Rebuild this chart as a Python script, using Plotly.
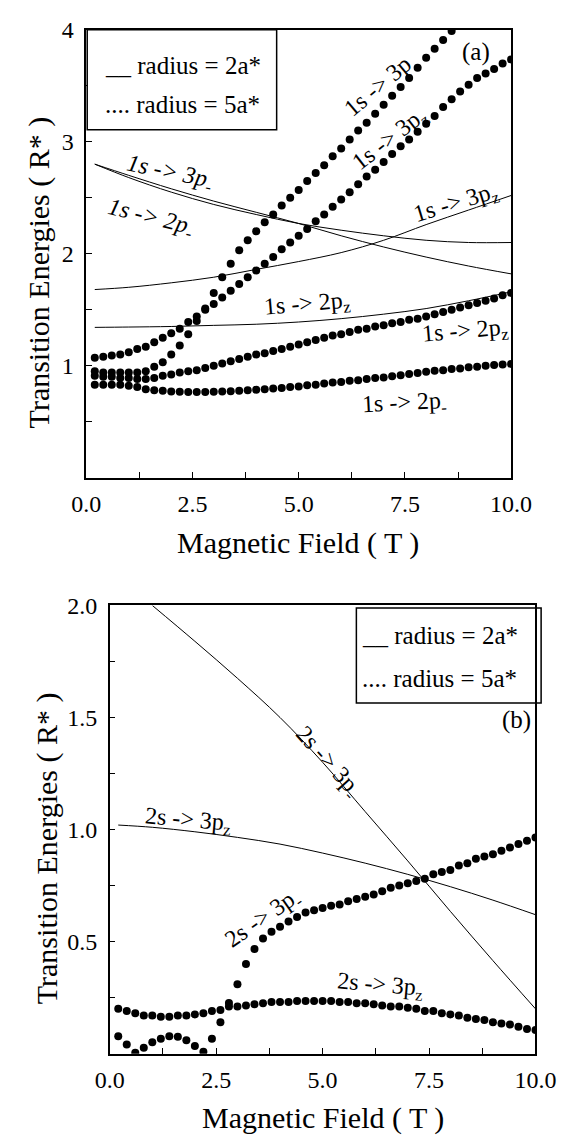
import plotly.graph_objects as go

W, H = 579, 1135
FONT = "Liberation Serif"

# ---------------- data: panel (a) ----------------
B_dots = [0.2, 0.4, 0.6, 0.8, 1.0, 1.2, 1.4, 1.6, 1.8, 2.0,
          2.2, 2.4, 2.6, 2.8, 3.0, 3.2, 3.4, 3.6, 3.8, 4.0,
          4.2, 4.4, 4.6, 4.8, 5.0, 5.2, 5.4, 5.6, 5.8, 6.0,
          6.2, 6.4, 6.6, 6.8, 7.0, 7.2, 7.4, 7.6, 7.8, 8.0,
          8.2, 8.4, 8.6, 8.8, 9.0, 9.2, 9.4, 9.6, 9.8, 10.0]

# radius = 5a* (dotted)
a5_1s3p = [0.95, 0.94, 0.94, 0.94, 0.94, 0.94, 0.95, 0.99, 1.03, 1.10,
           1.18, 1.28, 1.40, 1.51, 1.65, 1.79, 1.91, 2.03, 2.12, 2.20,
           2.28, 2.35, 2.43, 2.50, 2.57, 2.65, 2.72, 2.79, 2.87, 2.94,
           3.02, 3.10, 3.17, 3.25, 3.33, 3.41, 3.49, 3.57, 3.66, 3.75,
           3.83, 3.91, 3.99, None, None, None, None, None, None, None]
a5_1s3pz = [1.07, 1.08, 1.09, 1.10, 1.12, 1.15, 1.17, 1.21, 1.25, 1.29,
            1.33, 1.39, 1.44, 1.50, 1.55, 1.61, 1.67, 1.73, 1.79, 1.85,
            1.91, 1.97, 2.04, 2.10, 2.16, 2.22, 2.29, 2.35, 2.42, 2.485,
            2.55, 2.62, 2.69, 2.75, 2.82, 2.89, 2.96, 3.02, 3.09, 3.16,
            3.23, 3.31, 3.38, 3.45, 3.51, 3.57, 3.61, 3.65, 3.70, 3.735]
a5_1s2pz = [0.91, 0.90, 0.90, 0.89, 0.89, 0.88, 0.88, 0.89, 0.91, 0.92,
            0.94, 0.95, 0.96, 0.98, 1.00, 1.02, 1.04, 1.06, 1.08, 1.10,
            1.11, 1.13, 1.15, 1.17, 1.19, 1.21, 1.23, 1.25, 1.27, 1.28,
            1.30, 1.32, 1.33, 1.35, 1.36, 1.38, 1.39, 1.41, 1.42, 1.44,
            1.46, 1.48, 1.50, 1.52, 1.54, 1.56, 1.58, 1.60, 1.63, 1.65]
a5_1s2pm = [0.83, 0.83, 0.83, 0.83, 0.82, 0.81, 0.79, 0.78, 0.775, 0.77,
            0.768, 0.765, 0.765, 0.765, 0.767, 0.77, 0.772, 0.775, 0.78, 0.785,
            0.79, 0.795, 0.80, 0.81, 0.815, 0.825, 0.83, 0.84, 0.85, 0.855,
            0.865, 0.87, 0.88, 0.89, 0.895, 0.905, 0.915, 0.925, 0.935, 0.945,
            0.955, 0.96, 0.97, 0.975, 0.985, 0.99, 1.00, 1.005, 1.01, 1.015]

# radius = 2a* (solid)
B_line_a = [0.2, 1.0, 2.0, 3.0, 4.0, 5.0, 6.0, 7.0, 8.0, 9.0, 10.0]
a2_1s3pm = [2.80, 2.70, 2.58, 2.47, 2.37, 2.27, 2.16, 2.06, 1.97, 1.89, 1.82]
a2_1s2pm = [2.80, 2.68, 2.55, 2.44, 2.35, 2.27, 2.21, 2.16, 2.12, 2.10, 2.10]
a2_1s3pz = [1.68, 1.70, 1.74, 1.79, 1.86, 1.93, 2.01, 2.12, 2.26, 2.39, 2.52]
a2_1s2pz = [1.342, 1.345, 1.35, 1.36, 1.37, 1.39, 1.42, 1.46, 1.51, 1.58, 1.66]

# ---------------- data: panel (b) ----------------
b5_2s3pm = [0.078, 0.041, 0.004, 0.026, 0.051, 0.067, 0.078, 0.075, 0.06, 0.034,
            0.009, 0.066, 0.14, 0.226, 0.31, 0.40, 0.467, 0.514, 0.544, 0.566,
            0.59, 0.61, 0.63, 0.64, 0.65, 0.66, 0.665, 0.68, 0.69, 0.70,
            0.71, 0.725, 0.74, 0.75, 0.76, 0.77, 0.78, 0.80, 0.81, 0.82,
            0.84, 0.85, 0.87, 0.88, 0.89, 0.905, 0.92, 0.935, 0.95, 0.965]
b5_2s3pz = [0.20, 0.19, 0.18, 0.17, 0.17, 0.165, 0.165, 0.17, 0.17, 0.175,
            0.18, 0.19, 0.195, 0.21, 0.21, 0.215, 0.22, 0.225, 0.23, 0.23,
            0.23, 0.235, 0.235, 0.235, 0.235, 0.235, 0.23, 0.23, 0.225, 0.225,
            0.22, 0.215, 0.21, 0.21, 0.205, 0.20, 0.19, 0.19, 0.18, 0.175,
            0.17, 0.16, 0.155, 0.15, 0.14, 0.135, 0.13, 0.12, 0.11, 0.105]

B_line_b_m = [1.0, 2.0, 3.0, 4.0, 5.0, 6.0, 7.0, 8.0, 9.0, 10.0]
b2_2s3pm = [2.00, 1.84, 1.675, 1.50, 1.30, 1.08, 0.86, 0.635, 0.415, 0.20]
B_line_b_z = [0.2, 1.0, 2.0, 3.0, 4.0, 5.0, 6.0, 7.0, 8.0, 9.0, 10.0]
b2_2s3pz = [1.02, 1.01, 0.99, 0.965, 0.935, 0.895, 0.85, 0.80, 0.745, 0.685, 0.62]

x_ticks = [0, 2.5, 5, 7.5, 10]
x_ticktext = ["0.0", "2.5", "5.0", "7.5", "10.0"]
ya_ticks = [1, 2, 3, 4]
ya_ticktext = ["1", "2", "3", "4"]
yb_ticks = [0.5, 1.0, 1.5, 2.0]
yb_ticktext = ["0.5", "1.0", "1.5", "2.0"]

# ---------------- figure ----------------
def px_x(p):
    return p / W

def px_y(p):
    return 1 - p / H

fig = go.Figure()

def solid(x, y, xa, ya):
    fig.add_trace(go.Scatter(x=x, y=y, mode="lines", line=dict(color="black", width=1, shape="spline"),
                             xaxis=xa, yaxis=ya, showlegend=False, hoverinfo="skip"))

def dots(x, y, xa, ya):
    fig.add_trace(go.Scatter(x=x, y=y, mode="markers", marker=dict(color="black", size=8, line=dict(width=0)),
                             xaxis=xa, yaxis=ya, showlegend=False, hoverinfo="skip"))

solid(B_line_a, a2_1s3pm, "x", "y")
solid(B_line_a, a2_1s2pm, "x", "y")
solid(B_line_a, a2_1s3pz, "x", "y")
solid(B_line_a, a2_1s2pz, "x", "y")
dots(B_dots, a5_1s3p, "x", "y")
dots(B_dots, a5_1s3pz, "x", "y")
dots(B_dots, a5_1s2pz, "x", "y")
dots(B_dots, a5_1s2pm, "x", "y")

solid(B_line_b_m, b2_2s3pm, "x2", "y2")
solid(B_line_b_z, b2_2s3pz, "x2", "y2")
dots(B_dots, b5_2s3pm, "x2", "y2")
dots(B_dots, b5_2s3pz, "x2", "y2")

tickfont = dict(family=FONT, size=24, color="black")
common_x = dict(range=[0, 10], tickvals=x_ticks, ticktext=x_ticktext, ticks="inside", ticklen=6,
                tickwidth=1.2, tickcolor="black", showline=True, linecolor="black", linewidth=1.5,
                mirror=True, showgrid=False, zeroline=False, tickfont=tickfont, ticklabelstandoff=4,
                minor=dict(dtick=1.25, tick0=0, ticks="inside", ticklen=6, tickwidth=1.2,
                           tickcolor="black", showgrid=False))
common_y = dict(ticks="inside", ticklen=6, tickwidth=1.2, tickcolor="black", showline=True,
                linecolor="black", linewidth=1.5, mirror=True, showgrid=False, zeroline=False,
                tickfont=tickfont, ticklabelstandoff=6)

fig.update_layout(
    width=W, height=H, margin=dict(l=0, r=0, t=0, b=0),
    paper_bgcolor="white", plot_bgcolor="white",
    font=dict(family=FONT, color="black"),
    xaxis=dict(domain=[px_x(76), px_x(529)], anchor="y", **common_x),
    yaxis=dict(domain=[px_y(470), px_y(17)], anchor="x", range=[0, 4], tickvals=ya_ticks,
               ticktext=ya_ticktext,
               minor=dict(dtick=0.5, tick0=0, ticks="inside", ticklen=6, tickwidth=1.2,
                          tickcolor="black", showgrid=False), **common_y),
    xaxis2=dict(domain=[px_x(101), px_x(555)], anchor="y2", **common_x),
    yaxis2=dict(domain=[px_y(1052.7), px_y(599.3)], anchor="x2", range=[0, 2], tickvals=yb_ticks,
                ticktext=yb_ticktext,
                minor=dict(dtick=0.25, tick0=0, ticks="inside", ticklen=6, tickwidth=1.2,
                           tickcolor="black", showgrid=False), **common_y),
)

ann = []

def label(text, x, y, xr, yr, angle=0, size=24, italic=False):
    f = dict(family=FONT, size=size, color="black")
    if italic:
        f["style"] = "italic"
    ann.append(dict(text=text, x=x, y=y, xref=xr, yref=yr, showarrow=False, textangle=angle,
                    font=f, xanchor="center", yanchor="middle"))

def paper_text(text, xp, yp, size, angle=0):
    ann.append(dict(text=text, x=px_x(xp), y=px_y(yp), xref="paper", yref="paper", showarrow=False,
                    textangle=angle, font=dict(family=FONT, size=size, color="black"),
                    xanchor="center", yanchor="middle"))

# panel (a) curve labels
label("1s -> 3p<sub>-</sub>", 1.95, 2.72, "x", "y", angle=12, italic=True)
label("1s -> 2p<sub>-</sub>", 1.50, 2.32, "x", "y", angle=14, italic=True)
label("1s -> 3p", 6.86, 3.50, "x", "y", angle=-40)
label("1s -> 3p<sub>z</sub>", 7.15, 3.02, "x", "y", angle=-38)
label("1s -> 3p<sub>z</sub>", 8.70, 2.44, "x", "y", angle=-17)
label("1s -> 2p<sub>z</sub>", 5.19, 1.54, "x", "y", angle=-5)
label("1s -> 2p<sub>z</sub>", 8.92, 1.30, "x", "y", angle=-5)
label("1s -> 2p<sub>-</sub>", 7.48, 0.66, "x", "y", angle=-3)
label("(a)", 9.18, 3.80, "x", "y", size=25)

# panel (b) curve labels
label("2s -> 3p<sub>-</sub>", 5.11, 1.30, "x2", "y2", angle=48)
label("2s -> 3p<sub>z</sub>", 1.85, 1.04, "x2", "y2", angle=5)
label("2s -> 3p<sub>-</sub>", 3.61, 0.60, "x2", "y2", angle=-35)
label("2s -> 3p<sub>z</sub>", 6.34, 0.30, "x2", "y2", angle=5)
label("(b)", 9.56, 1.49, "x2", "y2", size=25)

# legend boxes (text only, as in the original)
legend_solid = "__ radius = 2a*"
legend_dots = ".... radius = 5a*"
paper_text(legend_solid, 179, 53, 25)
paper_text(legend_dots, 179, 93, 25)
paper_text(legend_solid, 453, 630, 25)
paper_text(legend_dots, 453, 673, 25)

# axis titles
xtitle = "Magnetic Field ( T )"
ytitle = "Transition Energies ( R* )"
paper_text(xtitle, 302, 536, 30)
paper_text(ytitle, 26, 262, 30, angle=-90)
paper_text(xtitle, 328, 1118, 30)
paper_text(ytitle, 34, 845, 30, angle=-90)

fig.update_layout(annotations=ann)

fig.add_shape(type="rect", xref="paper", yref="paper", x0=px_x(77), x1=px_x(279),
              y0=px_y(118), y1=px_y(17), line=dict(color="black", width=1.5), fillcolor="white",
              layer="above")
fig.add_shape(type="rect", xref="paper", yref="paper", x0=px_x(364), x1=px_x(561),
              y0=px_y(698), y1=px_y(602), line=dict(color="black", width=1.5), fillcolor="rgba(0,0,0,0)",
              layer="above")

fig.write_html("out.html")
